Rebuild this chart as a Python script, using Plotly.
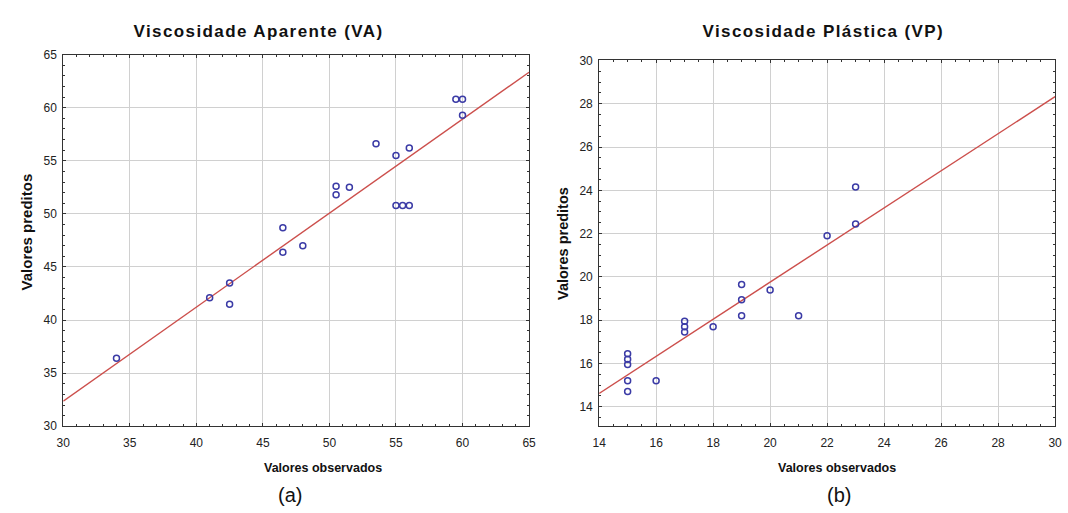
import plotly.graph_objects as go
from plotly.subplots import make_subplots

# Viscosidade Aparente (VA): observed vs predicted
va_observado = [34, 41, 42.5, 42.5, 46.5, 46.5, 48, 50.5, 50.5, 51.5,
                53.5, 55, 56, 55, 55.5, 56, 59.5, 60, 60]
va_predito = [36.4, 42.1, 43.5, 41.5, 48.7, 46.4, 47.0, 52.6, 51.8, 52.5,
              56.6, 55.5, 56.2, 50.8, 50.8, 50.8, 60.8, 60.8, 59.3]
va_reta = (0.885, 5.82)  # slope, intercept of fitted line

# Viscosidade Plástica (VP): observed vs predicted
vp_observado = [15, 15, 15, 15, 15, 16, 17, 17, 17, 18,
                19, 19, 19, 20, 21, 22, 23, 23]
vp_predito = [14.7, 15.2, 15.95, 16.2, 16.45, 15.2, 17.95, 17.7, 17.45, 17.7,
              19.65, 18.95, 18.2, 19.4, 18.2, 21.9, 22.45, 24.15]
vp_reta = (0.857, 2.62)

va_ticks = [30, 35, 40, 45, 50, 55, 60, 65]
vp_xticks = [14, 16, 18, 20, 22, 24, 26, 28, 30]
vp_yticks = [14, 16, 18, 20, 22, 24, 26, 28, 30]

W, H = 1068, 513
MARKER = "#3b3ba6"
LINE = "#cc4f4c"
GRID = "#d0d0d0"
FRAME = "#333333"
SANS = "Liberation Sans, Arial, Helvetica, sans-serif"


def px(x):
    return x / W


def py(y):
    return 1 - y / H


fig = make_subplots(rows=1, cols=2)

for col, obs, pred, reta, xr in [
    (1, va_observado, va_predito, va_reta, (30, 65)),
    (2, vp_observado, vp_predito, vp_reta, (14, 30)),
]:
    a, b = reta
    fig.add_trace(go.Scatter(
        x=list(xr), y=[a * v + b for v in xr], mode="lines",
        line=dict(color=LINE, width=1.4), showlegend=False, hoverinfo="skip"),
        row=1, col=col)
    fig.add_trace(go.Scatter(
        x=obs, y=pred, mode="markers",
        marker=dict(symbol="circle-open", size=6, color=MARKER,
                    line=dict(width=1.5, color=MARKER)),
        showlegend=False), row=1, col=col)

axis_common = dict(
    showline=True, linecolor=FRAME, linewidth=1, mirror="allticks",
    ticks="inside", ticklen=3, tickcolor=FRAME,
    showgrid=True, gridcolor=GRID, gridwidth=1, zeroline=False,
    tickfont=dict(family=SANS, size=12, color="#222222"),
)

fig.update_xaxes(axis_common, ticklabelstandoff=5)
fig.update_yaxes(axis_common, ticklabelstandoff=3)


def minor(step):
    return dict(dtick=step, ticks="inside", ticklen=2, tickcolor=FRAME, showgrid=False)


fig.update_xaxes(range=[30, 65], tickvals=va_ticks, domain=[px(57), px(529)],
                 minor=minor(1), row=1, col=1)
fig.update_yaxes(range=[30, 65], tickvals=va_ticks, domain=[py(431), py(49)],
                 minor=minor(1), row=1, col=1)
fig.update_xaxes(range=[14, 30], tickvals=vp_xticks, domain=[px(600), px(1062)],
                 minor=minor(0.5), row=1, col=2)
fig.update_yaxes(range=[13.1, 30], tickvals=vp_yticks, domain=[py(431), py(55)],
                 minor=minor(0.5), row=1, col=2)

annotations = [
    # panel titles
    dict(text="<b>Viscosidade Aparente (VA)</b>", x=px(255), y=py(25),
         font=dict(family=SANS, size=17, color="#111111")),
    dict(text="<b>Viscosidade Plástica (VP)</b>", x=px(827), y=py(25),
         font=dict(family=SANS, size=17, color="#111111")),
    # axis titles
    dict(text="<b>Valores observados</b>", x=px(320), y=py(474),
         font=dict(family=SANS, size=12.5, color="#111111")),
    dict(text="<b>Valores observados</b>", x=px(841), y=py(474),
         font=dict(family=SANS, size=12.5, color="#111111")),
    dict(text="<b>Valores preditos</b>", x=px(20), y=py(231), textangle=-90,
         font=dict(family=SANS, size=15, color="#111111")),
    dict(text="<b>Valores preditos</b>", x=px(564), y=py(243), textangle=-90,
         font=dict(family=SANS, size=14.5, color="#111111")),
    # panel letters
    dict(text="(a)", x=px(287), y=py(502),
         font=dict(family=SANS, size=20, color="#111111")),
    dict(text="(b)", x=px(843), y=py(502),
         font=dict(family=SANS, size=20, color="#111111")),
]
for ann in annotations:
    ann.update(xref="paper", yref="paper", showarrow=False,
               xanchor="center", yanchor="middle")

fig.update_layout(
    width=W, height=H, margin=dict(l=0, r=0, t=0, b=0),
    paper_bgcolor="white", plot_bgcolor="white",
    annotations=annotations, showlegend=False,
)

# panel titles are set with wider letter spacing
spacing_js = """
var gd = document.getElementById('{plot_id}');
function spaceTitles() {
  gd.querySelectorAll('.annotation-text').forEach(function (t) {
    if (t.textContent.indexOf('Viscosidade') === 0) {
      t.style.letterSpacing = '1.4px';
    }
  });
}
spaceTitles();
gd.on('plotly_afterplot', spaceTitles);
"""

fig.write_html("out.html", post_script=spacing_js)
